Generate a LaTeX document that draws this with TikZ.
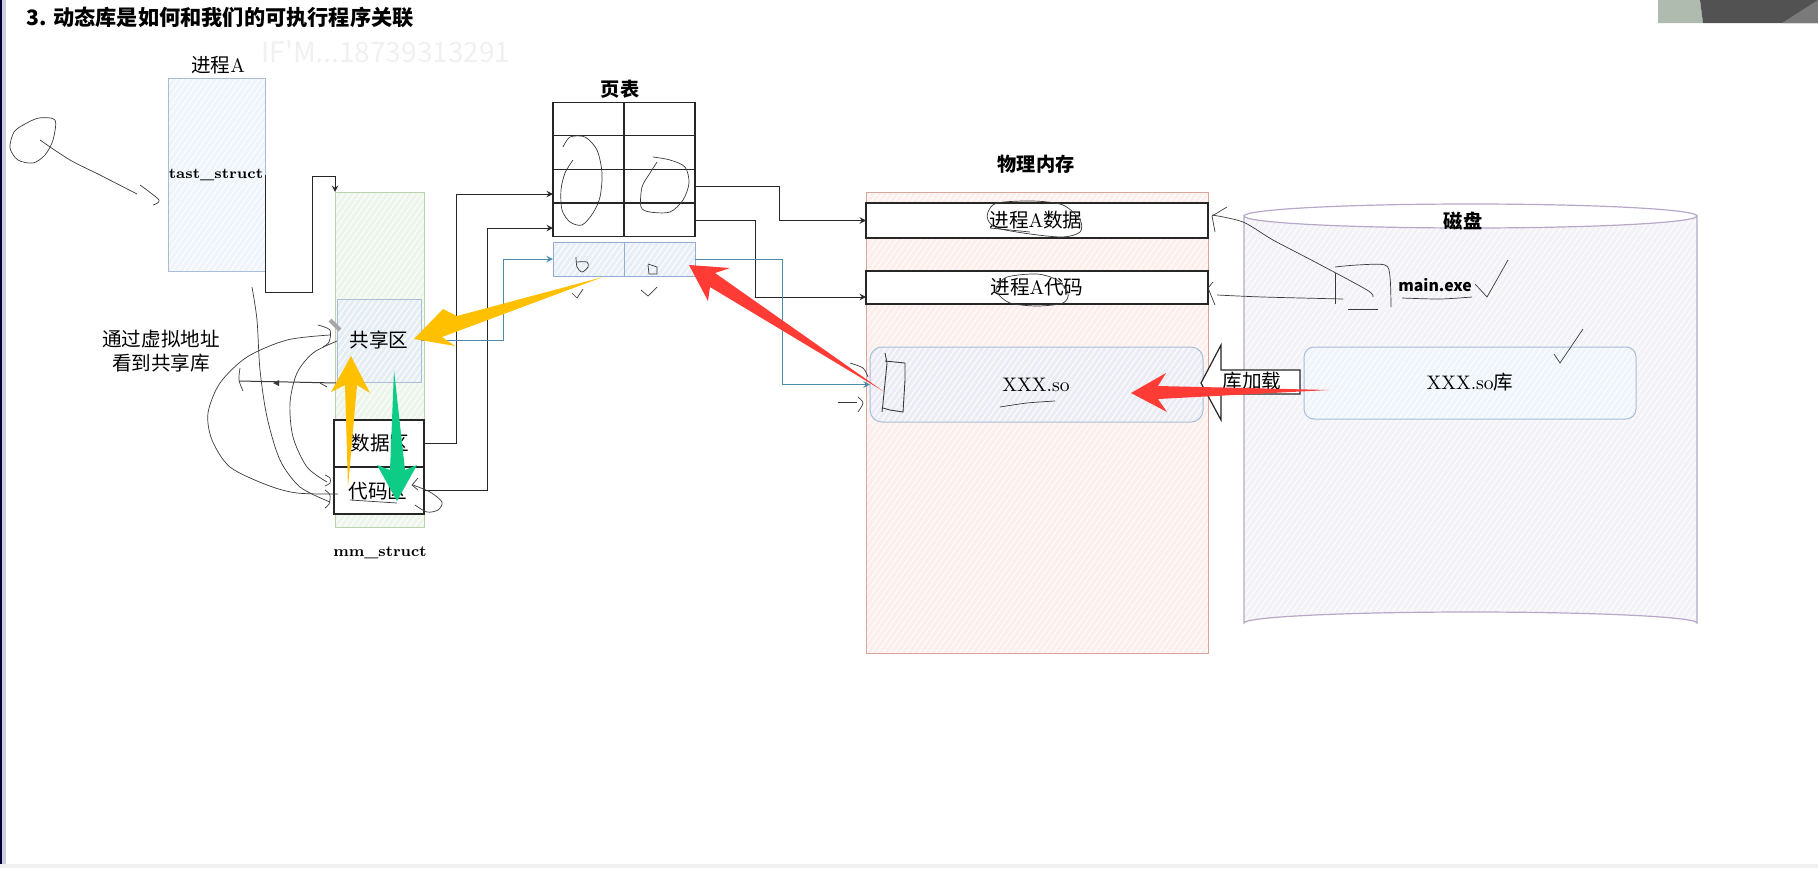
\documentclass[tikz,border=0pt]{standalone}
\usepackage{fontspec}
\usepackage{tikz}
\usetikzlibrary{patterns.meta}
\newfontfamily\cjk{Noto Sans CJK SC}
\newcommand{\lat}[1]{{\normalfont #1}}

\definecolor{inkgray}{HTML}{3A3A3A}
\definecolor{wireblue}{HTML}{4C8CA8}
\definecolor{arrowyellow}{HTML}{FFC000}
\definecolor{arrowgreen}{HTML}{0CCC86}
\definecolor{arrowred}{HTML}{FF3B36}
\definecolor{taskfill}{HTML}{EFF5FB}
\definecolor{taskedge}{HTML}{A9BDD8}
\definecolor{mmfill}{HTML}{EEF5EA}
\definecolor{mmedge}{HTML}{BAD3AD}
\definecolor{sharefill}{HTML}{E6EEF5}
\definecolor{cellfill}{HTML}{E9EFF8}
\definecolor{celledge}{HTML}{93ACD2}
\definecolor{memfill}{HTML}{FDEFEB}
\definecolor{memedge}{HTML}{D8A49C}
\definecolor{sofill}{HTML}{ECEDF4}
\definecolor{diskfill}{HTML}{F3F2F7}
\definecolor{diskedge}{HTML}{B7A8C8}

\tikzset{
    hatch/.style={postaction={pattern={Lines[angle=55,distance=2.4pt,line width=.45pt]},pattern color=white}, postaction={draw=#1}},
    plainbox/.style={rectangle, inner sep=0pt, outer sep=0pt, line width=.5pt},
    softbox/.style args={#1/#2}{plainbox, fill=#1, hatch=#2},
    whitecell/.style={plainbox, draw=black!85, fill=white, line width=.6pt},
    lbl/.style={inner sep=0pt, font=\cjk\fontsize{9.8}{12}\selectfont},
    boldlbl/.style={inner sep=0pt, font=\cjk\bfseries\fontsize{9.6}{12}\selectfont},
    wire/.style={draw=black!85, line width=.45pt, ->, >=stealth},
    bluewire/.style={draw=wireblue, line width=.5pt, ->, >=stealth},
    ink/.style={draw=inkgray, line width=.35pt},
}

\begin{document}
\begin{tikzpicture}[x=0.5pt,y=-0.5pt]
\useasboundingbox (0,0) rectangle (1818,868);

% window edges
\fill [black!80!blue] (0,0) rectangle (2,864);
\fill [blue!30!gray!30] (2,0) rectangle (6,864);
\fill [black!6] (0,864) rectangle (1818,868);
\fill [gray!40!green!10!white!75!black] (1658,0) -- (1700,0) -- (1703,23) -- (1658,23) -- cycle;
\fill [black!68] (1700,0) -- (1818,0) -- (1818,23) -- (1703,23) -- cycle;
\fill [black!52] (1818,0) -- (1818,23) -- (1782,23) -- cycle;

% texts
\node [lbl, anchor=west, font=\cjk\bfseries\fontsize{10.6}{12}\selectfont] (title) at (26,17) {3. 动态库是如何和我们的可执行程序关联};
\node [lbl, text=black!6, font=\cjk\fontsize{14}{16}\selectfont] (mark) at (386,52) {IF'M...18739313291};
\node [lbl] (procname) at (218,65) {进程\lat{A}};
\node [boldlbl] (pagetitle) at (620,89) {页表};
\node [boldlbl] (memtitle) at (1036,164) {物理内存};

% boxes
\node [softbox=taskfill/taskedge, minimum width=48.5pt, minimum height=96.5pt] (task) at (216.5,174.5) {};
\node [softbox=mmfill/mmedge, minimum width=44.5pt, minimum height=167.5pt] (mm) at (379.5,359.5) {};
\node [softbox=sharefill/taskedge, minimum width=42pt, minimum height=41.5pt] (share) at (379,340.5) {};
\node [whitecell, minimum width=45pt, minimum height=23.5pt] (data) at (379,443.5) {};
\node [whitecell, minimum width=45pt, minimum height=23.5pt] (code) at (379,490.5) {};

\foreach \r/\y in {1/119,2/152.5,3/186,4/220}
    \foreach \c/\x in {a/588.5,b/659.5}
        \node [whitecell, minimum width=35.5pt, minimum height=16.8pt] (\c\r) at (\x,\y) {};
\foreach \c/\x in {a/588.5,b/659.5}
    \node [softbox=cellfill/celledge, minimum width=35.5pt, minimum height=17pt] (\c5) at (\x,259) {};

\node [softbox=memfill/memedge, minimum width=171pt, minimum height=230.5pt] (mem) at (1037,422.5) {};
\node [whitecell, minimum width=171pt, minimum height=17.5pt] (rowdata) at (1037,220.5) {};
\node [whitecell, minimum width=171pt, minimum height=16.5pt] (rowcode) at (1037,287.5) {};
\node [softbox=sofill/taskedge, rounded corners=6pt, minimum width=166.5pt, minimum height=37.5pt] (soinmem) at (1036.5,384.5) {};

% disk
\path [fill=diskfill, line width=.6pt, hatch=diskedge] (1244,216) -- (1244,623)
    arc [start angle=180, end angle=360, x radius=226.5, y radius=11] -- (1697,216)
    arc [start angle=0, end angle=180, x radius=226.5, y radius=12] -- cycle;
\draw [diskedge, line width=.6pt] (1244,216) arc [start angle=180, end angle=360, x radius=226.5, y radius=12];
\node [softbox=taskfill/taskedge, rounded corners=5pt, minimum width=166pt, minimum height=36pt] (soondisk) at (1470,383) {};

% labels in the boxes
\node [inner sep=0pt, font=\bfseries\fontsize{7.3}{9}\selectfont] (tasklbl) at (216,175) {tast\_struct};
\node [inner sep=0pt, font=\bfseries\fontsize{7.6}{9}\selectfont] (mmlbl) at (380,553) {mm\_struct};
\node [lbl] (sharelbl) at (379,340) {共享区};
\node [lbl] (datalbl) at (380,443) {数据区};
\node [lbl] (codelbl) at (378,491) {代码区};
\node [lbl, align=center] (viewlbl) at (161,351) {通过虚拟地址\\看到共享库};
\node [lbl] (datarowlbl) at (1036,220) {进程\lat{A}数据};
\node [lbl] (coderowlbl) at (1037,287) {进程\lat{A}代码};
\node [lbl] (solbl) at (1036,385) {\lat{XXX.so}};
\node [boldlbl] (disklbl) at (1463,221) {磁盘};
\node [boldlbl, font=\cjk\bfseries\fontsize{7.9}{10}\selectfont] (exelbl) at (1435,285) {main.exe};
\node [lbl] (sodisklbl) at (1470,382) {\lat{XXX.so}库};

% load arrow
\draw [draw=black!85, fill=white, line width=.6pt] (1300,370) -- (1221,370) -- (1221,345) -- (1201,383) -- (1221,420) -- (1221,394) -- (1300,394) -- cycle;
\node [lbl] (loadlbl) at (1252,381) {库加载};

% connectors
\coordinate (pinA) at (553,194);
\coordinate (pinB) at (553,228);
\coordinate (pinC) at (866,297);

\draw [wire] (task.east) -- ++(0,118) -- ++(47,0) -- ++(0,-116) -| (mm.north west);
\draw [wire] (data.east) -- ++(32,0) |- (pinA);
\draw [wire] (code.east) -- ++(63,0) |- (pinB);
\draw [bluewire] (share.east) -- ++(82,0) |- (a5.west);
\draw [wire] (b3.east) -- ++(84,0) |- (rowdata.west);
\draw [wire] (b4.east) -- ++(60,0) |- (pinC);
\draw [bluewire] (b5.east) -- ++(87,0) |- (soinmem.west);

% pen marks
\draw [ink] plot [smooth cycle] coordinates {(39,118) (55,120) (53,140) (45,155) (33,163) (18,160) (10,148) (14,132) (25,124)};
\draw [ink] plot [smooth] coordinates {(40,140) (70,160) (100,175) (137,194)};
\draw [ink] plot [smooth] coordinates {(140,185) (159,200) (153,205)};
\draw [ink] plot [smooth] coordinates {(252,287) (257,320) (260,370) (267,417) (280,460) (300,487) (330,502)};
\draw [ink] plot [smooth] coordinates {(337,341) (313,353) (297,373) (290,403) (293,437) (307,467) (327,482)};
\draw [ink] plot [smooth] coordinates {(330,335) (287,340) (247,357) (220,383) (208,413) (212,440) (230,467) (267,485) (297,493) (338,494)};
\draw [ink] plot [smooth] coordinates {(325,475) (330,478) (330,483) (325,486)};
\draw [ink] plot [smooth] coordinates {(325,490) (330,495) (329,504) (325,508)};
\draw [ink] plot [smooth] coordinates {(240,368) (239,380) (243,391)};
\draw [ink, line width=.5pt] (239,381) -- (337,383);
\fill [inkgray] (273,383) -- (279,380) -- (279,386) -- cycle;
\draw [ink] (320,383) -- (327,387);
\draw [ink] plot [smooth] coordinates {(318,325) (330,330) (329,342) (323,347)};
\fill [gray!70, rotate around={-45:(335,325)}] (328,323) rectangle (342,327);
\draw [ink] plot [smooth] coordinates {(413,485) (430,492) (442,502) (438,510) (427,512) (415,505)};
\draw [ink] plot coordinates {(418,478) (412,485) (418,490)};
\draw [ink] (350,500) -- (397,503);
\draw [ink] plot [smooth] coordinates {(563,147) (570,137) (585,137) (597,150) (602,173) (600,197) (593,213) (582,225) (570,222) (562,210) (561,190) (565,173) (573,160)};
\draw [ink] plot [smooth] coordinates {(653,157) (670,160) (685,167) (689,183) (683,200) (670,212) (650,212) (641,207) (642,187) (650,173) (657,162)};
\draw [ink] plot [smooth] coordinates {(576,257) (577,267) (582,272) (588,267) (587,262) (577,262)};
\draw [ink] plot coordinates {(648,265) (649,274) (657,274) (657,267) (648,264)};
\draw [ink] plot coordinates {(572,293) (577,298) (583,289)};
\draw [ink] plot coordinates {(641,290) (648,296) (657,287)};
\draw [ink] plot [smooth] coordinates {(850,363) (863,368) (868,377)};
\draw [ink] (838,402) -- (857,402);
\draw [ink] plot [smooth] coordinates {(858,397) (863,403) (858,412)};
\draw [ink, line width=.45pt] plot coordinates {(885,353) (887,363) (883,403) (882,412)};
\draw [ink, line width=.45pt] plot coordinates {(885,361) (905,363) (905,380) (903,412) (890,410) (883,408)};
\draw [ink] plot [smooth] coordinates {(1000,407) (1027,403) (1055,401)};
\draw [ink] plot [smooth cycle] coordinates {(988,212) (997,203) (1033,201) (1063,205) (1080,220) (1080,232) (1063,237) (1030,234) (997,228) (988,220)};
\draw [ink] (990,228) -- (1030,232);
\draw [ink] plot [smooth cycle] coordinates {(997,287) (1007,277) (1037,274) (1057,280) (1068,293) (1063,303) (1037,306) (1010,303) (997,293)};
\draw [ink] plot [smooth] coordinates {(1212,215) (1243,222) (1273,240) (1317,263) (1367,290) (1373,297)};
\draw [ink] plot coordinates {(1227,207) (1212,216) (1215,232)};
\draw [ink] plot [smooth] coordinates {(1217,295) (1263,297) (1343,299)};
\draw [ink] plot coordinates {(1213,282) (1208,288) (1215,305)};
\draw [ink] plot [smooth] coordinates {(1335,267) (1357,265) (1385,265) (1390,277) (1391,307)};
\draw [ink] (1335,273) -- (1335,304);
\draw [ink] (1348,309) -- (1378,309);
\draw [ink] plot [smooth] coordinates {(1402,298) (1440,299) (1472,297)};
\draw [ink] plot coordinates {(1475,284) (1487,297) (1508,260)};
\draw [ink] plot coordinates {(1554,354) (1560,363) (1583,329)};

% big strokes
\fill [arrowyellow] (603,277) -- (457,316) -- (443,309) -- (414,339) -- (455,346) -- (442,337) -- cycle;
\fill [arrowyellow] (348,487) -- (345,385) -- (331,392) -- (351,356) -- (370,393) -- (357,385) -- cycle;
\fill [arrowgreen] (394,370) -- (390,470) -- (377,465) -- (397,501) -- (417,465) -- (405,470) -- cycle;
\fill [arrowred] (883,391) -- (715,273) -- (730,268) -- (689,265) -- (708,301) -- (710,287) -- cycle;
\fill [arrowred] (1329,390) -- (1158,386) -- (1166,373) -- (1131,393) -- (1167,412) -- (1158,399) -- cycle;

\end{tikzpicture}
\end{document}
